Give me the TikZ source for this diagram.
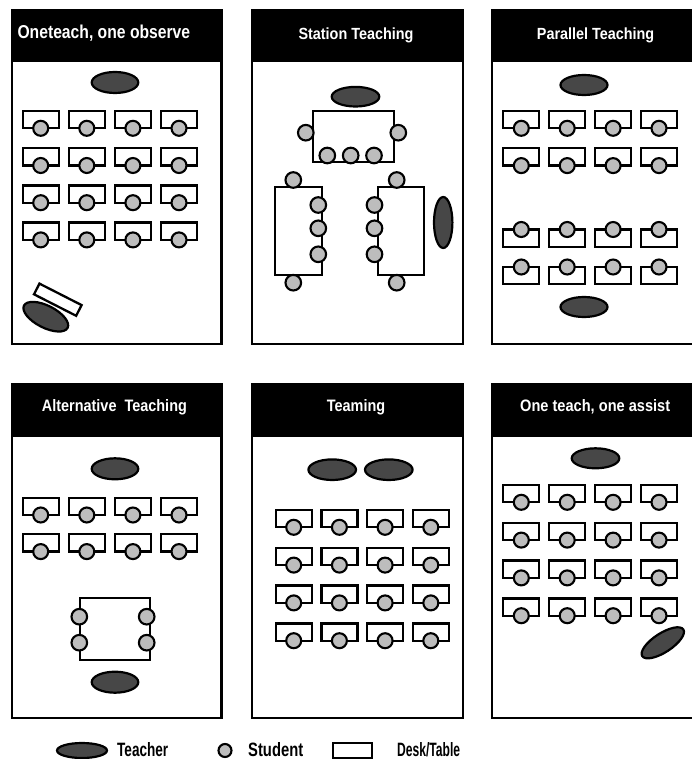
\documentclass[tikz,border=0pt]{standalone}
\usepackage{fontspec}
\setmainfont{Liberation Sans}
\usepackage{graphicx}
\definecolor{tfill}{HTML}{474747}
\definecolor{sfill}{HTML}{BDBDBD}
\tikzset{
  panelline/.style={draw=black, line width=2.1pt},
  deskbox/.style={draw=black, fill=white, line width=2.3pt},
  student/.style={draw=black, fill=sfill, line width=2.1pt},
  teacher/.style={draw=black, fill=tfill, line width=2.2pt},
  hdr/.style={anchor=base west, inner sep=0pt, text=white, font=\bfseries},
  lgd/.style={anchor=base west, inner sep=0pt, text=black, font=\bfseries},
}
\newcommand\cpanel[5]{% left top right bottom headerbottom
  \fill[black] (#1,#2) rectangle (#3,#5);
  \draw[panelline] (#1,#2) rectangle (#3,#4);}
\newcommand\dskdown[2]{%
  \draw[deskbox] (#1,#2) rectangle ++(36,17.3);
  \draw[student] ([shift={(18,17.3)}]#1,#2) circle[radius=7.5pt];}
\newcommand\dskup[2]{%
  \draw[deskbox] (#1,#2) rectangle ++(36,17.3);
  \draw[student] ([shift={(18,0)}]#1,#2) circle[radius=7.5pt];}
\newcommand\stud[2]{\draw[student] (#1,#2) circle[radius=7.8pt];}
\newcommand\tchr[5]{% x y rx ry rot
  \draw[teacher, rotate around={#5:(#1,#2)}] (#1,#2) ellipse [x radius=#3pt, y radius=#4pt];}
\newcommand\deskgrid[6]{% x0 dx y0 dy ncols-1 nrows-1
  \foreach \cc in {0,...,#5}{\foreach \rr in {0,...,#6}{%
    \pgfmathsetmacro\xx{#1+#2*\cc}\pgfmathsetmacro\yy{#3+#4*\rr}%
    \dskdown{\xx}{\yy}}}}
\begin{document}
\begin{tikzpicture}[x=1pt, y=-1pt]
\useasboundingbox (0,0) rectangle (692,759);
\clip (0,0) rectangle (692,759);
\fill[white] (0,0) rectangle (692,759);

% ---------- panels ----------
\cpanel{12}{10}{221.5}{344}{62.5}
\cpanel{252}{10}{463}{344}{62.5}
\cpanel{492}{10}{703}{344}{62.5}
\cpanel{12}{384}{221.5}{718}{437}
\cpanel{252}{384}{463}{718}{437}
\cpanel{492}{384}{703}{718}{437}

% ---------- headers ----------
\node[hdr] (h1) at (17.3,39) {\resizebox{172.7pt}{13.5pt}{Oneteach, one observe}};
\node[hdr] (h2) at (298.3,40) {\resizebox{115pt}{11.7pt}{Station Teaching}};
\node[hdr] (h3) at (536.7,40) {\resizebox{117.3pt}{11.7pt}{Parallel Teaching}};
\node[hdr] (h4) at (41.7,411.7) {\resizebox{145pt}{12pt}{Alternative\ \ Teaching}};
\node[hdr] (h5) at (326.7,411.7) {\resizebox{58.3pt}{12pt}{Teaming}};
\node[hdr] (h6) at (520,411.7) {\resizebox{150pt}{12pt}{One teach, one assist}};

% ---------- panel 1: one teach, one observe ----------
\tchr{115}{82.5}{23.3}{10.5}{0}
\deskgrid{22.7}{46.1}{111}{37.2}{3}{3}
\draw[deskbox, rotate around={-27:(57.8,299.7)}] (34.15,293.7) rectangle (81.45,305.7);
\tchr{45.8}{316.7}{24.5}{11}{-27}

% ---------- panel 2: station teaching ----------
\tchr{355.5}{96.7}{23.8}{9.8}{0}
\draw[deskbox] (313.3,111) rectangle (394,162.3);
\stud{305.8}{132.7}\stud{398.3}{132.7}
\stud{327.3}{155.5}\stud{350.7}{155.5}\stud{374}{155.5}
\draw[deskbox] (275,186.7) rectangle (321.7,275);
\stud{293.3}{180}\stud{293.3}{282.7}
\stud{318.3}{205}\stud{318.3}{228.3}\stud{318.3}{254.3}
\draw[deskbox] (378.3,186.7) rectangle (424,275);
\stud{396.7}{180}\stud{396.7}{282.7}
\stud{374.5}{205}\stud{374.5}{228.3}\stud{374.5}{254.3}
\tchr{443.2}{222.5}{9.2}{25.5}{0}

% ---------- panel 3: parallel teaching ----------
\tchr{584}{85}{23.5}{10}{0}
\deskgrid{503.3}{45.9}{111}{37.3}{3}{1}
\foreach \cc in {0,...,3}{\foreach \rr in {0,1}{%
  \pgfmathsetmacro\xx{503.3+45.9*\cc}\pgfmathsetmacro\yy{229.5+37.5*\rr}%
  \dskup{\xx}{\yy}}}
\tchr{584}{307}{23.5}{10}{0}

% ---------- panel 4: alternative teaching ----------
\tchr{115}{468.8}{23.3}{10.5}{0}
\deskgrid{22.7}{46.1}{497.7}{36.6}{3}{1}
\draw[deskbox] (80,597.7) rectangle (150,660);
\stud{79.3}{616.7}\stud{79.3}{642.7}
\stud{146.7}{616.7}\stud{146.7}{642.7}
\tchr{115}{682.2}{23.3}{10.5}{0}

% ---------- panel 5: teaming ----------
\tchr{332.2}{469.7}{23.8}{10.3}{0}
\tchr{388.8}{469.7}{23.8}{10.3}{0}
\deskgrid{275.7}{45.7}{510}{37.8}{3}{3}

% ---------- panel 6: one teach, one assist ----------
\tchr{595.5}{458.3}{23.8}{10}{0}
\deskgrid{503.3}{45.9}{485}{37.8}{3}{3}
\tchr{662.8}{642.8}{24.5}{9.5}{33}

% ---------- legend ----------
\tchr{82}{750.5}{25}{7.5}{0}
\node[lgd] (lt) at (117,756) {\resizebox{51pt}{14pt}{Teacher}};
\draw[student] (225,750.5) circle[radius=6.5pt];
\node[lgd] (ls) at (248,756) {\resizebox{55pt}{14pt}{Student}};
\draw[deskbox, line width=1.8pt] (333,743) rectangle (372,758);
\node[lgd] (ld) at (397,756) {\resizebox{63pt}{14pt}{Desk/Table}};
\end{tikzpicture}
\end{document}
